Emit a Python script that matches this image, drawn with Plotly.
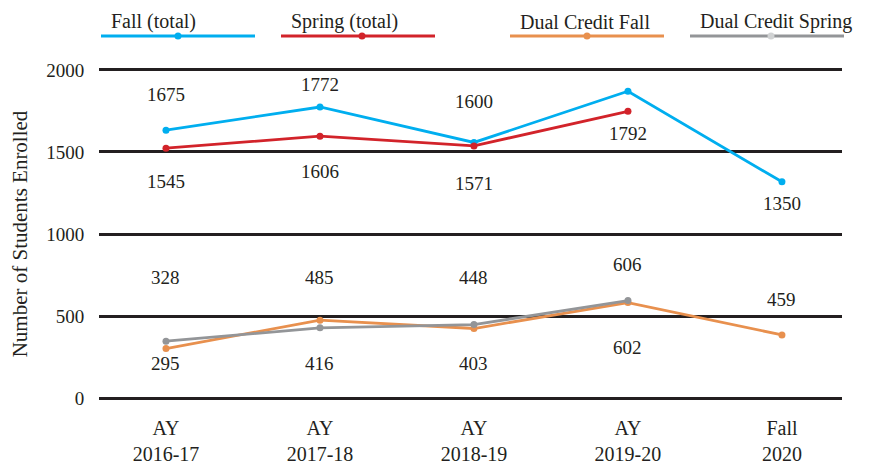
import plotly.graph_objects as go

# ---------------- data ----------------
categories = ["AY<br>2016-17", "AY<br>2017-18", "AY<br>2018-19", "AY<br>2019-20", "Fall<br>2020"]

fall_total = [1633, 1774, 1558, 1870, 1318]
spring_total = [1523, 1596, 1537, 1748]
dual_fall = [302, 475, 424, 582, 385]
dual_spring = [347, 428, 448, 594]

fall_labels = ["1675", "1772", "1600", "1849", "1350"]
spring_labels = ["1545", "1606", "1571", "1792"]
dual_fall_labels = ["295", "485", "403", "602", "459"]
dual_spring_labels = ["328", "416", "448", "606"]

series_names = ["Fall (total)", "Spring (total)", "Dual Credit Fall", "Dual Credit Spring"]
y_ticks = [0, 500, 1000, 1500, 2000]

# ---------------- styling / placement ----------------
FONT = "Liberation Serif, Times New Roman, serif"
TXT = "#231f20"
FS = 19
FS_LEG = 20
FS_CAT = 20
FS_TITLE = 21
colors = ["#00aeef", "#d2232a", "#e8904e", "#939598"]
legend_dot_colors = ["#00aeef", "#d2232a", "#e8904e", "#d1d3d4"]

# vertical placement of the value labels (in axis units)
fall_label_y = [1852, 1913, 1805, 2077, 1188]
spring_label_y = [1322, 1383, 1310, 1614]
dual_fall_label_y = [209, 734, 209, 306, 598]
dual_spring_label_y = [734, 209, 732, 817]

W, H = 872, 466
Y0_PX, Y2000_PX = 398.5, 70.0      # pixel rows of 0 and 2000
PAD = 30                            # axis-unit padding beyond 0..2000
scale = (Y0_PX - Y2000_PX) / 2000.0
L, R = 99, 30
T = round(Y2000_PX - PAD * scale)
B = round(H - (Y0_PX + PAD * scale))
PW, PH = W - L - R, H - T - B

fig = go.Figure()
all_series = [fall_total, spring_total, dual_fall, dual_spring]
for name, vals, col in zip(series_names, all_series, colors):
    fig.add_trace(go.Scatter(
        x=categories[:len(vals)], y=vals, mode="lines+markers", name=name,
        line=dict(color=col, width=2.8), marker=dict(color=col, size=7),
        showlegend=False, cliponaxis=False,
    ))

annotations = []
for labels, ys in [(fall_labels, fall_label_y), (spring_labels, spring_label_y),
                   (dual_fall_labels, dual_fall_label_y), (dual_spring_labels, dual_spring_label_y)]:
    for i, (t, yv) in enumerate(zip(labels, ys)):
        annotations.append(dict(x=categories[i], y=yv, xref="x", yref="y", text=t,
                                showarrow=False, font=dict(family=FONT, size=FS, color=TXT)))

# custom legend: text above a line with a dot in the middle
legend_px = [(101, 255, 178), (281, 435, 362), (510, 664, 587), (690, 844, 771)]
shapes = []
def px2x(px):
    return (px - L) / PW
def py2y(py):
    return (H - B - py) / PH
for (x0, x1, xd), name, col, dcol in zip(legend_px, series_names, colors, legend_dot_colors):
    shapes.append(dict(type="line", xref="paper", yref="paper", x0=px2x(x0), x1=px2x(x1),
                       y0=py2y(36), y1=py2y(36), line=dict(color=col, width=3)))
    shapes.append(dict(type="circle", xref="paper", yref="paper", xsizemode="pixel", ysizemode="pixel",
                       xanchor=px2x(xd), yanchor=py2y(36), x0=-3.5, x1=3.5, y0=-3.5, y1=3.5,
                       fillcolor=dcol, line=dict(width=0)))
    annotations.append(dict(x=px2x(x0 + 8), y=py2y(22), xref="paper", yref="paper", text=name,
                            xanchor="left", yanchor="middle", showarrow=False,
                            font=dict(family=FONT, size=FS_LEG, color=TXT)))

fig.update_layout(
    width=W, height=H,
    margin=dict(l=L, r=R, t=T, b=B, autoexpand=False),
    paper_bgcolor="white", plot_bgcolor="white",
    font=dict(family=FONT, size=FS, color=TXT),
    annotations=annotations, shapes=shapes,
    xaxis=dict(type="category", range=[-0.435, 4.39], showgrid=False, zeroline=False,
               showline=False, ticks="outside", ticklen=7, tickcolor="rgba(0,0,0,0)",
               automargin=False, tickfont=dict(family=FONT, size=FS_CAT, color=TXT)),
    yaxis=dict(range=[-PAD, 2000 + PAD], tickvals=y_ticks, showgrid=True, gridcolor=TXT, gridwidth=3,
               zeroline=False, showline=False, ticks="outside", ticklen=10,
               tickcolor="rgba(0,0,0,0)", automargin=False,
               tickfont=dict(family=FONT, size=FS, color=TXT),
               title=dict(text="Number of Students Enrolled", standoff=12,
                          font=dict(family=FONT, size=FS_TITLE, color=TXT))),
)

fig.write_html("out.html", config={"displayModeBar": False},
               post_script="document.body.style.margin='0';document.body.style.overflow='hidden';")
